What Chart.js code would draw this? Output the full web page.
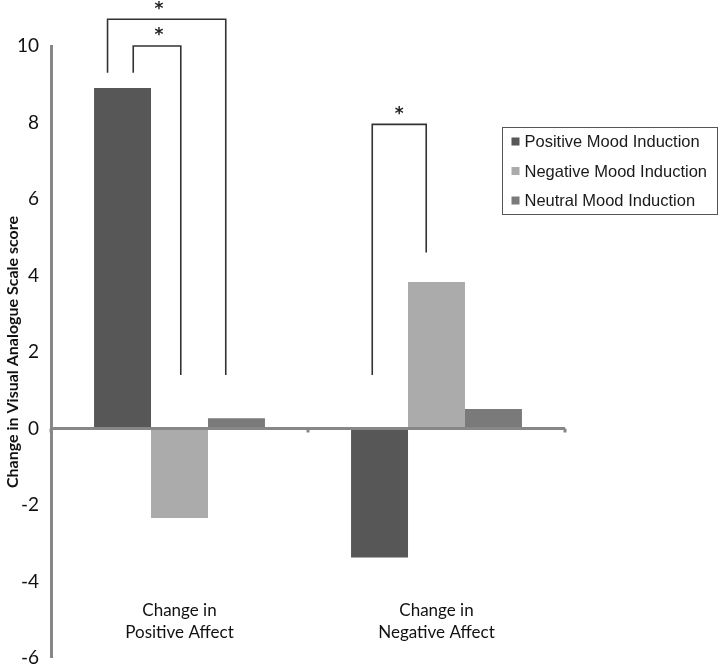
<!DOCTYPE html>
<html>
<head>
<meta charset="utf-8">
<script src="https://cdn.jsdelivr.net/npm/chart.js@4"></script>
<style>
  html, body { margin: 0; padding: 0; background: #fff; }
  #wrap { width: 720px; height: 664px; }
</style>
</head>
<body>
<div id="wrap"><canvas id="myChart"></canvas></div>
<script>
// categories
var categories = [['Change in', 'Positive Affect'], ['Change in', 'Negative Affect']];

// series values
var positiveMood = [8.9, -3.37];
var negativeMood = [-2.34, 3.83];
var neutralMood = [0.27, 0.51];

var seriesNames = ['Positive Mood Induction', 'Negative Mood Induction', 'Neutral Mood Induction'];
var seriesColors = ['#575757', '#ababab', '#7a7a7a'];

// y axis range / ticks
var yMin = -6;
var yMax = 10;
var yStep = 2;

// significance brackets (x in category units, y in score units)
var bracketX1 = [-0.28, -0.18, 0.75];
var bracketX2 = [0.18, 0.005, 0.96];
var bracketTop = [10.7, 10.0, 7.95];
var bracketLeftEnd = [9.3, 9.3, 1.4];
var bracketRightEnd = [1.4, 1.4, 4.6];
var starX = [-0.08, -0.08, 0.855];

var axisGray = '#878787';

// 유의성 괄호 + 축 눈금
var bracketPlugin = {
    id: 'brackets',
    afterDatasetsDraw: function (chart) {
        var ctx = chart.ctx;
        var xs = chart.scales.x;
        var ys = chart.scales.y;
        ctx.save();

        // small ticks on the zero line
        ctx.strokeStyle = axisGray;
        ctx.lineWidth = 3;
        var y0 = ys.getPixelForValue(0);
        for (var i = 0; i <= categories.length; i++) {
            var tx = xs.getPixelForValue(i - 0.5);
            ctx.beginPath();
            ctx.moveTo(tx, y0);
            ctx.lineTo(tx, y0 + 4);
            ctx.stroke();
        }

        ctx.strokeStyle = '#333';
        ctx.lineWidth = 1.6;
        ctx.fillStyle = '#222';
        ctx.font = 'bold 17px "DejaVu Sans"';
        ctx.textAlign = 'center';
        ctx.textBaseline = 'middle';
        for (var b = 0; b < bracketX1.length; b++) {
            var x1 = xs.getPixelForValue(bracketX1[b]);
            var x2 = xs.getPixelForValue(bracketX2[b]);
            var top = ys.getPixelForValue(bracketTop[b]);
            ctx.beginPath();
            ctx.moveTo(x1, ys.getPixelForValue(bracketLeftEnd[b]));
            ctx.lineTo(x1, top);
            ctx.lineTo(x2, top);
            ctx.lineTo(x2, ys.getPixelForValue(bracketRightEnd[b]));
            ctx.stroke();
            ctx.fillText('*', xs.getPixelForValue(starX[b]), top - 10);
        }
        ctx.restore();
    }
};

// 범례 상자
var legendBoxPlugin = {
    id: 'legendBox',
    afterDraw: function (chart) {
        var ctx = chart.ctx;
        var box = { x: 502.5, y: 127.5, w: 215, h: 87 };
        ctx.save();
        ctx.strokeStyle = '#555';
        ctx.lineWidth = 1;
        ctx.strokeRect(box.x, box.y, box.w, box.h);
        ctx.font = '16.5px "Liberation Sans", Arial';
        ctx.textBaseline = 'middle';
        ctx.textAlign = 'left';
        chart.data.datasets.forEach(function (ds, i) {
            var cy = 141.5 + i * 29.5;
            ctx.fillStyle = ds.backgroundColor;
            ctx.fillRect(box.x + 9, cy - 4, 8, 8);
            ctx.fillStyle = '#1a1a1a';
            ctx.fillText(ds.label, box.x + 22, cy + 1);
        });
        ctx.restore();
    }
};

var chartData = {
    labels: categories,
    datasets: [
        { label: seriesNames[0], data: positiveMood, backgroundColor: seriesColors[0] },
        { label: seriesNames[1], data: negativeMood, backgroundColor: seriesColors[1] },
        { label: seriesNames[2], data: neutralMood, backgroundColor: seriesColors[2] }
    ]
};

var ctx = document.getElementById('myChart').getContext('2d');

var myChart = new Chart(ctx, {
    type: 'bar',
    data: chartData,
    plugins: [bracketPlugin, legendBoxPlugin],
    options: {
        responsive: true,
        maintainAspectRatio: false,
        animation: false,
        layout: {
            padding: { top: 46, right: 155, bottom: 6, left: 0 }
        },
        datasets: {
            bar: {
                categoryPercentage: 0.665,
                barPercentage: 1.0,
                borderWidth: 0
            }
        },
        plugins: {
            legend: { display: false },
            tooltip: { enabled: false }
        },
        scales: {
            x: {
                position: { y: -4.48 },
                grid: { display: false, drawTicks: false },
                border: { display: false },
                ticks: {
                    padding: 0,
                    color: '#111',
                    font: { family: 'Lato', size: 17, lineHeight: 1.3 }
                }
            },
            y: {
                min: yMin,
                max: yMax,
                afterFit: function (scale) {
                    scale.width = 51;
                    scale.paddingTop = 0;
                    scale.paddingBottom = 0;
                },
                ticks: {
                    stepSize: yStep,
                    padding: 12,
                    color: '#111',
                    font: { family: 'Lato', size: 19 }
                },
                grid: {
                    drawTicks: false,
                    color: function (c) { return c.tick && c.tick.value === 0 ? axisGray : 'rgba(0,0,0,0)'; },
                    lineWidth: function (c) { return c.tick && c.tick.value === 0 ? 3 : 0; }
                },
                border: { display: true, color: axisGray, width: 3 },
                title: {
                    display: true,
                    text: 'Change in Visual Analogue Scale score',
                    color: '#111',
                    font: { family: 'Lato', size: 16, weight: 'bold' },
                    padding: { top: 3, bottom: 0 }
                }
            }
        }
    }
});
</script>
</body>
</html>
